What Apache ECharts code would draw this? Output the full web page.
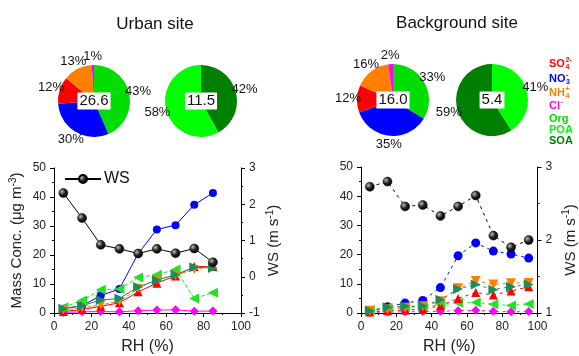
<!DOCTYPE html>
<html>
<head>
<meta charset="utf-8">
<script src="https://cdn.jsdelivr.net/npm/echarts@6/dist/echarts.min.js"></script>
<style>
  html, body { margin: 0; padding: 0; background: #fff; }
  #main { width: 579px; height: 356px; }
</style>
</head>
<body>
<div id="main"></div>
<script>
// urban site
var urbanRH = [5, 15, 25, 35, 45, 55, 65, 75, 85]
var urbanWS = [2.31, 1.62, 0.88, 0.77, 0.64, 0.77, 0.65, 0.78, 0.40]
var urbanSO4 = [0.5, 1.2, 2.3, 3.5, 7.3, 10.3, 12.8, 16.0, 16.0]
var urbanNO3 = [1.5, 2.5, 6.0, 8.3, 20.5, 28.8, 30.3, 37.3, 41.4]
var urbanNH4 = [1.0, 1.8, 2.8, 4.0, 8.5, 11.5, 13.0, 15.0, 16.2]
var urbanCl = [0.2, 0.4, 0.5, 0.4, 0.8, 1.0, 1.1, 0.6, 0.7]
var urbanPOA = [2.0, 4.3, 8.0, 8.3, 12.2, 13.2, 15.0, 5.0, 7.0]
var urbanSOA = [1.5, 2.5, 4.5, 5.0, 9.0, 11.3, 13.2, 15.8, 15.5]
// background site
var bgRH = [5, 15, 25, 35, 45, 55, 65, 75, 85, 95]
var bgWS = [2.73, 2.80, 2.46, 2.48, 2.33, 2.46, 2.61, 2.06, 1.90, 2.00]
var bgSO4 = [0.3, 0.8, 1.0, 1.3, 2.5, 5.0, 7.0, 6.2, 7.5, 9.0]
var bgNO3 = [0.5, 2.1, 3.4, 4.3, 8.7, 19.6, 24.0, 21.2, 20.2, 18.8]
var bgNH4 = [0.8, 1.2, 1.8, 2.3, 4.0, 8.5, 11.0, 9.8, 10.2, 10.3]
var bgCl = [0.2, 0.3, 0.4, 0.5, 0.6, 0.8, 0.9, 0.6, 0.4, 0.5]
var bgPOA = [1.0, 1.8, 2.1, 2.2, 2.8, 3.5, 3.6, 3.0, 2.6, 3.1]
var bgSOA = [0.8, 2.0, 2.3, 2.4, 4.5, 8.2, 9.8, 8.0, 9.0, 9.8]
// pies (percent)
var pieNames = ['Org', 'NO3', 'SO4', 'NH4', 'Cl']
var urbanPie = [43, 30, 12, 13, 1]
var bgPie = [33, 35, 12, 16, 2]
var urbanOA = [42, 58] // SOA, POA
var bgOA = [41, 59] // POA, SOA
var urbanTotal = '26.6', urbanOATotal = '11.5'
var bgTotal = '16.0', bgOATotal = '5.4'

var FONT = 'Arial, "Liberation Sans", sans-serif'
var C = {
  SO4: '#ff0000', NO3: '#0000ff', NH4: '#ff8000', Cl: '#ff00ff',
  Org: '#00dd00', POA: '#00ff00', SOA: '#008000',
  POAline: '#22e022', SOAline: '#1b8c5d'
}
var pieColors = [C.Org, C.NO3, C.SO4, C.NH4, C.Cl]

var ball = {
  type: 'radial', x: 0.35, y: 0.35, r: 0.7,
  colorStops: [{ offset: 0, color: '#bbb' }, { offset: 0.5, color: '#222' }, { offset: 1, color: '#000' }]
}

function zip (xs, ys) {
  return xs.map(function (x, i) { return [x, ys[i]] })
}

function lineSeries (name, xs, ys, color, symbol, rot, dash, grid, yIdx, size) {
  return {
    name: name,
    type: 'line',
    xAxisIndex: grid,
    yAxisIndex: yIdx,
    data: zip(xs, ys),
    symbol: symbol,
    symbolRotate: rot,
    symbolSize: size || 9,
    itemStyle: { color: color },
    lineStyle: { color: color, width: 1, type: dash },
    z: 3
  }
}

var PIE_R = 36
var LABEL_R = 45

function pieSeries (center, vals, colors) {
  var total = vals.reduce(function (a, b) { return a + b }, 0)
  var mids = []
  var cum = 0
  vals.forEach(function (v) {
    mids.push((cum + v / 2) / total * Math.PI * 2)
    cum += v
  })
  return {
    type: 'pie',
    center: center,
    radius: PIE_R,
    startAngle: 90,
    clockwise: true,
    avoidLabelOverlap: false,
    animation: false,
    data: vals.map(function (v, i) {
      return { value: v, itemStyle: { color: colors[i] } }
    }),
    label: {
      position: 'outside',
      formatter: '{c}%',
      fontFamily: FONT,
      fontSize: 13,
      color: '#111'
    },
    labelLine: { show: false, length: 0, length2: 0 },
    // label centred on the slice's mid angle, a little outside the rim
    labelLayout: function (params) {
      var a = mids[params.dataIndex]
      return {
        x: center[0] + LABEL_R * Math.sin(a),
        y: center[1] - LABEL_R * Math.cos(a),
        align: 'center',
        verticalAlign: 'middle',
        hideOverlap: false
      }
    },
    emphasis: { disabled: true }
  }
}

function centerText (x, y, txt) {
  return {
    type: 'text', x: x, y: y, z: 20,
    style: {
      text: txt, fontFamily: FONT, fontSize: 15, fill: '#111',
      backgroundColor: '#fff', padding: [1, 2],
      align: 'center', verticalAlign: 'middle'
    }
  }
}

var tickLabel = { fontFamily: FONT, fontSize: 12, color: '#222' }
var axisLine = { show: true, lineStyle: { color: '#000', width: 1 } }

function xAxis (grid) {
  return {
    type: 'value', gridIndex: grid, min: 0, max: 100, interval: 20,
    name: 'RH (%)', nameLocation: 'middle', nameGap: 26,
    nameTextStyle: { fontFamily: FONT, fontSize: 16, color: '#222' },
    axisLine: axisLine, axisTick: { show: true, length: 4, lineStyle: { color: '#000' } },
    minorTick: { show: true, splitNumber: 2, length: 2, lineStyle: { color: '#000' } },
    axisLabel: tickLabel, splitLine: { show: false }
  }
}

function yAxis (grid, name) {
  return {
    type: 'value', gridIndex: grid, min: 0, max: 50, interval: 10,
    name: name, nameLocation: 'middle', nameGap: 28,
    nameTextStyle: {
      fontFamily: FONT, fontSize: 15, color: '#222',
      rich: { sup: { fontFamily: FONT, fontSize: 10, color: '#222', verticalAlign: 'top', padding: [0, 0, 8, 0] } }
    },
    axisLine: axisLine, axisTick: { show: true, length: 4, lineStyle: { color: '#000' } },
    minorTick: { show: true, splitNumber: 2, length: 2, lineStyle: { color: '#000' } },
    axisLabel: tickLabel, splitLine: { show: false }
  }
}

function wsAxis (grid, min, max) {
  return {
    type: 'value', gridIndex: grid, position: 'right', min: min, max: max, interval: 1,
    name: 'WS (m s{sup|-1})', nameLocation: 'middle', nameGap: 24,
    nameTextStyle: {
      fontFamily: FONT, fontSize: 15, color: '#222',
      rich: { sup: { fontFamily: FONT, fontSize: 10, color: '#222', padding: [0, 0, 8, 0] } }
    },
    axisLine: axisLine, axisTick: { show: true, length: 4, lineStyle: { color: '#000' } },
    minorTick: { show: true, splitNumber: 2, length: 2, lineStyle: { color: '#000' } },
    axisLabel: tickLabel, splitLine: { show: false }
  }
}

// legend text: [main, sub, sup, color, y]
var legendItems = [
  ['SO', '4', '2-', C.SO4, 64],
  ['NO', '3', '-', C.NO3, 79],
  ['NH', '4', '+', C.NH4, 93],
  ['Cl', '', '-', C.Cl, 106],
  ['Org', '', '', C.Org, 119],
  ['POA', '', '', C.POA, 130],
  ['SOA', '', '', C.SOA, 141]
]

var graphics = [
  centerText(94, 101, urbanTotal),
  centerText(201, 101, urbanOATotal),
  centerText(393, 100, bgTotal),
  centerText(492, 100, bgOATotal),
  { type: 'text', x: 155, y: 24, style: { text: 'Urban site', fontFamily: FONT, fontSize: 17, fill: '#111', align: 'center', verticalAlign: 'middle' } },
  { type: 'text', x: 457, y: 23, style: { text: 'Background site', fontFamily: FONT, fontSize: 17, fill: '#111', align: 'center', verticalAlign: 'middle' } }
]
var ctx = document.createElement('canvas').getContext('2d')
ctx.font = 'bold 11px ' + FONT
legendItems.forEach(function (it) {
  var x0 = 549
  var w = ctx.measureText(it[0]).width
  var base = { fontFamily: FONT, fontWeight: 'bold', fill: it[3] }
  graphics.push({
    type: 'text', x: x0, y: it[4], z: 20,
    style: Object.assign({ text: it[0], fontSize: 11, verticalAlign: 'middle' }, base)
  })
  if (it[1]) {
    graphics.push({
      type: 'text', x: x0 + w + 0.5, y: it[4] + 3.5, z: 20,
      style: Object.assign({ text: it[1], fontSize: 7, verticalAlign: 'middle' }, base)
    })
  }
  if (it[2]) {
    graphics.push({
      type: 'text', x: x0 + w + 0.5, y: it[4] - 4, z: 20,
      style: Object.assign({ text: it[2], fontSize: 7, verticalAlign: 'middle' }, base)
    })
  }
})

var chart = echarts.init(document.getElementById('main'), null, { renderer: 'canvas' })
chart.setOption({
  animation: false,
  backgroundColor: '#fff',
  grid: [
    { left: 54, right: 338, top: 168, bottom: 42 },
    { left: 361, right: 32, top: 167, bottom: 43 }
  ],
  legend: {
    data: ['WS'], left: 59, top: 166, itemWidth: 36, itemHeight: 10, itemGap: 4,
    textStyle: { fontFamily: FONT, fontSize: 16, color: '#111', padding: [0, 0, 0, -2] }
  },
  xAxis: [xAxis(0), xAxis(1)],
  yAxis: [
    yAxis(0, 'Mass Conc. (μg m{sup|-3})'),
    wsAxis(0, -1, 3),
    yAxis(1, ''),
    wsAxis(1, 1, 3)
  ],
  graphic: graphics,
  series: [
    pieSeries([94, 101], urbanPie, pieColors),
    pieSeries([201, 101], urbanOA, [C.SOA, C.POA]),
    pieSeries([393, 100], bgPie, pieColors),
    pieSeries([492, 100], bgOA, [C.POA, C.SOA]),

    lineSeries('NO3', urbanRH, urbanNO3, C.NO3, 'circle', 0, 'solid', 0, 0, 8),
    lineSeries('Cl', urbanRH, urbanCl, C.Cl, 'diamond', 0, 'solid', 0, 0, 9),
    lineSeries('POA', urbanRH, urbanPOA, C.POAline, 'triangle', 90, [4, 2], 0, 0, 10),
    lineSeries('SO4', urbanRH, urbanSO4, C.SO4, 'triangle', 0, 'solid', 0, 0, 9),
    lineSeries('NH4', urbanRH, urbanNH4, C.NH4, 'triangle', 180, [4, 2], 0, 0, 9),
    lineSeries('SOA', urbanRH, urbanSOA, C.SOAline, 'triangle', -90, 'solid', 0, 0, 10),
    {
      name: 'WS', type: 'line', xAxisIndex: 0, yAxisIndex: 1, data: zip(urbanRH, urbanWS),
      symbol: 'circle', symbolSize: 9, z: 4,
      itemStyle: { color: ball, borderColor: '#000', borderWidth: 0.5 },
      lineStyle: { color: '#000', width: 1 }
    },

    lineSeries('NO3b', bgRH, bgNO3, C.NO3, 'circle', 0, [3, 4], 1, 2, 9),
    lineSeries('Clb', bgRH, bgCl, C.Cl, 'diamond', 0, [3, 4], 1, 2, 9),
    lineSeries('POAb', bgRH, bgPOA, C.POAline, 'triangle', 90, [3, 4], 1, 2, 10),
    lineSeries('SO4b', bgRH, bgSO4, C.SO4, 'triangle', 0, [3, 4], 1, 2, 9),
    lineSeries('NH4b', bgRH, bgNH4, C.NH4, 'triangle', 180, [3, 4], 1, 2, 10),
    lineSeries('SOAb', bgRH, bgSOA, C.SOAline, 'triangle', -90, [3, 4], 1, 2, 10),
    {
      name: 'WSb', type: 'line', xAxisIndex: 1, yAxisIndex: 3, data: zip(bgRH, bgWS),
      symbol: 'circle', symbolSize: 9, z: 4,
      itemStyle: { color: ball, borderColor: '#000', borderWidth: 0.5 },
      lineStyle: { color: '#000', width: 1, type: [3, 4] }
    }
  ]
})
</script>
</body>
</html>
